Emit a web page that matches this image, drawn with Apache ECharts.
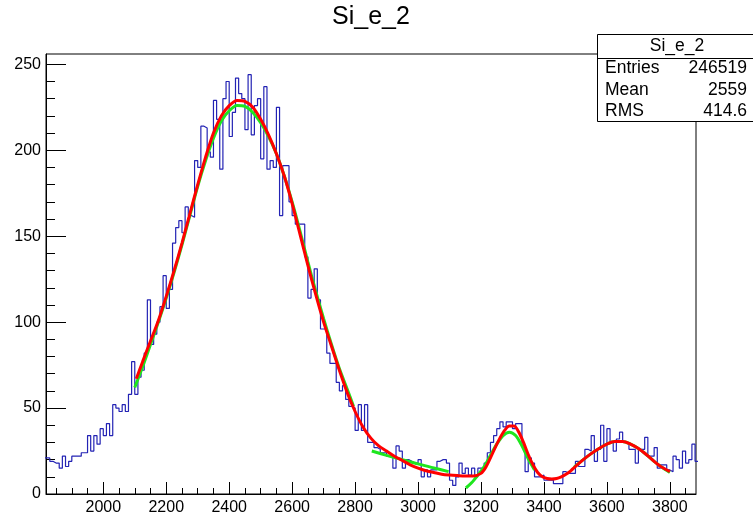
<!DOCTYPE html>
<html><head><meta charset="utf-8">
<script src="https://cdn.jsdelivr.net/npm/echarts@6/dist/echarts.min.js"></script>
<style>html,body{margin:0;padding:0;background:#fff}#c{width:753px;height:519px}</style>
</head><body><div id="c"></div>
<script>
// ---- data ----
const binStart = 1810;
const binWidth = 10;
const counts = [
  21, 21, 19, 18, 18, 15, 22, 16, 19, 22,   // 1810-1900
  22, 22, 24, 24, 34, 25, 34, 29, 38, 34,   // 1910-2000
  41, 34, 52, 50, 48, 52, 48, 58, 77, 58,   // 2010-2100
  68, 72, 82, 113, 87, 93, 100, 109, 127, 108, // 2110-2200
  119, 146, 155, 159, 152, 167, 162, 161, 194, 190, // 2210-2300
  214, 213, 199, 196, 229, 218, 189, 230, 240, 208, // 2310-2400
  222, 242, 233, 230, 212, 244, 209, 226, 230, 195, // 2410-2500
  237, 189, 194, 190, 225, 162, 191, 191, 170, 162, // 2510-2600
  157, 157, 157, 138, 114, 119, 131, 113, 96, 96,   // 2610-2700
  82, 76, 76, 65, 60, 63, 55, 51, 50, 37,   // 2710-2800
  52, 37, 52, 30, 30, 27, 26, 24, 24, 22,   // 2810-2900
  22, 15, 28, 25, 15, 20, 19, 18, 18, 20,   // 2910-3000
  10, 14, 10, 14, 14, 19, 20, 20, 18, 8,    // 3010-3100
  5, 10, 18, 12, 15, 11, 15, 10, 15, 15,    // 3110-3200
  18, 24, 30, 34, 38, 42, 39, 42, 42, 38,   // 3210-3300
  41, 41, 28, 13, 21, 18, 10, 10, 11, 8,    // 3310-3400
  8, 8, 6, 6, 6, 13, 12, 12, 12, 19,        // 3410-3500
  16, 16, 26, 25, 34, 19, 26, 40, 19, 38,   // 3510-3600
  30, 25, 32, 36, 30, 29, 26, 26, 18, 26,   // 3610-3700
  26, 33, 22, 22, 27, 15, 17, 17, 14, 13,   // 3710-3800
  22, 20, 15, 25, 18, 20, 29, 19            // 3810-3880
];

// total fit (red)
const redX = [2105, 2125, 2150, 2175, 2200, 2225, 2250, 2275, 2300, 2325, 2350, 2375, 2400, 2425, 2450, 2475, 2500, 2525, 2550, 2575, 2600, 2625, 2650, 2675, 2700, 2725, 2750, 2775, 2800, 2825, 2850, 2875, 2900, 2925, 2950, 2975, 3000, 3025, 3050, 3075, 3100, 3125, 3150, 3175, 3200, 3215, 3230, 3245, 3260, 3275, 3290, 3305, 3320, 3335, 3350, 3365, 3380, 3395, 3410, 3425, 3440, 3455, 3470, 3485, 3500, 3525, 3550, 3575, 3600, 3625, 3650, 3675, 3700, 3725, 3750, 3775, 3800];
const redY = [67, 77, 89, 101, 115, 130, 146, 163, 180, 196, 210, 220, 226, 229, 228.5, 225, 218, 209, 198, 185, 169, 151, 133, 116, 100, 86, 72, 59, 48, 39, 32.5, 28, 25, 22, 19.5, 17, 15, 13.5, 12.5, 11.5, 11, 10.7, 10.5, 10.5, 12, 15.5, 21, 27, 32.5, 37, 39.5, 39.5, 36, 30, 23, 17, 12.5, 10, 9, 8.7, 9, 10, 11.5, 13.5, 16, 20, 23.5, 26.5, 29, 30.5, 30.5, 29, 26.5, 23, 19, 15.5, 13];
// component fits (green)
const g1X = [2100, 2125, 2150, 2175, 2200, 2225, 2250, 2275, 2300, 2325, 2350, 2375, 2400, 2425, 2450, 2475, 2500, 2525, 2550, 2575, 2600, 2625, 2650, 2675, 2700, 2725, 2750, 2775, 2795];
const g1Y = [62, 74, 87, 100, 114, 129, 145, 162, 179, 194, 207, 217, 223, 226, 225.5, 222, 216, 208, 198, 185, 170, 153, 135, 118, 102, 87, 73, 61, 51];
const g2X = [2853, 2900, 2950, 3000, 3050, 3097];
const g2Y = [25, 22.5, 20, 17.5, 15.2, 13];
const g3X = [3152, 3170, 3190, 3210, 3230, 3250, 3270, 3290, 3310, 3330, 3350, 3370];
const g3Y = [3.5, 6.5, 11, 16, 22.5, 29, 34, 36, 34, 28, 20.5, 14];
const g4X = [3495, 3525, 3550, 3575, 3600, 3625, 3650, 3675, 3700, 3725, 3750, 3775, 3800];
const g4Y = [15.5, 20, 23.5, 26.5, 29, 30.5, 30.5, 29, 26.5, 23, 19, 15.5, 12.5];

// axis ticks / labels
const xMajorTicks = [2000, 2200, 2400, 2600, 2800, 3000, 3200, 3400, 3600, 3800];
const xMinorTicks = [1850, 1900, 1950, 2000, 2050, 2100, 2150, 2200, 2250, 2300, 2350, 2400, 2450, 2500, 2550, 2600, 2650, 2700, 2750, 2800, 2850, 2900, 2950, 3000, 3050, 3100, 3150, 3200, 3250, 3300, 3350, 3400, 3450, 3500, 3550, 3600, 3650, 3700, 3750, 3800, 3850];
const yMajorTicks = [0, 50, 100, 150, 200, 250];
const yMinorTicks = [10, 20, 30, 40, 60, 70, 80, 90, 110, 120, 130, 140, 160, 170, 180, 190, 210, 220, 230, 240];

const titleText = 'Si_e_2';
const statsRows = [['Entries', '246519'], ['Mean', '2559'], ['RMS', '414.6']];

// ---- chart ----
const FONT = '"Liberation Sans", Arial, Helvetica, sans-serif';
const xMin = 1818, xMax = 3883, yMin = 0, yMax = 256;
const G = {left: 46, right: 57, top: 54, bottom: 25};

const histData = counts.map((v, i) => [binStart + i * binWidth, v]);
histData.push([binStart + counts.length * binWidth, counts[counts.length - 1]]);
const zip = (xs, ys) => xs.map((x, i) => [x, ys[i]]);
const plain = v => String(v);

function axisCommon(min, max) {
  return {type: 'value', min: min, max: max, splitLine: {show: false}};
}

const chart = echarts.init(document.getElementById('c'), null, {renderer: 'canvas'});
const curve = (data, color, z) => ({
  type: 'line', data: data, smooth: 0.3, showSymbol: false, symbol: 'none',
  lineStyle: {color: color, width: 3}, z: z, silent: true, clip: true
});

chart.setOption({
  animation: false,
  backgroundColor: '#ffffff',
  grid: [
    Object.assign({show: true, borderColor: '#000', borderWidth: 1, backgroundColor: 'transparent'}, G),
    Object.assign({show: false}, G)
  ],
  xAxis: [
    Object.assign(axisCommon(xMin, xMax), {
      gridIndex: 0, position: 'bottom',
      axisLine: {show: true, onZero: false, lineStyle: {color: '#000', width: 1}},
      axisTick: {show: true, inside: true, length: 12, customValues: xMajorTicks, lineStyle: {color: '#000', width: 1}},
      axisLabel: {show: true, customValues: xMajorTicks, formatter: plain, color: '#000', fontSize: 16, fontFamily: FONT, margin: 6}
    }),
    Object.assign(axisCommon(xMin, xMax), {
      gridIndex: 1, position: 'bottom',
      axisLine: {show: false, onZero: false},
      axisTick: {show: true, inside: true, length: 6, customValues: xMinorTicks, lineStyle: {color: '#000', width: 1}},
      axisLabel: {show: false}
    })
  ],
  yAxis: [
    Object.assign(axisCommon(yMin, yMax), {
      gridIndex: 0, position: 'left',
      axisLine: {show: true, onZero: false, lineStyle: {color: '#000', width: 1}},
      axisTick: {show: true, inside: true, length: 20, customValues: yMajorTicks, lineStyle: {color: '#000', width: 1}},
      axisLabel: {show: true, customValues: yMajorTicks, formatter: plain, color: '#000', fontSize: 16, fontFamily: FONT, margin: 5}
    }),
    Object.assign(axisCommon(yMin, yMax), {
      gridIndex: 1, position: 'left',
      axisLine: {show: false, onZero: false},
      axisTick: {show: true, inside: true, length: 9, customValues: yMinorTicks, lineStyle: {color: '#000', width: 1}},
      axisLabel: {show: false}
    })
  ],
  series: [
    {
      type: 'line', name: 'hist', data: histData, step: 'end', showSymbol: false, symbol: 'none',
      lineStyle: {color: '#2323b4', width: 1.2}, z: 2, silent: true, clip: true,
      xAxisIndex: 0, yAxisIndex: 0
    },
    curve(zip(g1X, g1Y), '#1ee61e', 3),
    curve(zip(g2X, g2Y), '#1ee61e', 3),
    curve(zip(g3X, g3Y), '#1ee61e', 3),
    curve(zip(g4X, g4Y), '#1ee61e', 3),
    curve(zip(redX, redY), '#ff0000', 4)
  ],
  graphic: [
    {type: 'text', z: 100, silent: true,
     style: {text: titleText, x: 371, y: 17, align: 'center', verticalAlign: 'middle', font: '25px ' + FONT, fill: '#000'}},
    {type: 'rect', z: 100, silent: true,
     shape: {x: 597.5, y: 34.5, width: 160, height: 87},
     style: {fill: '#fff', stroke: '#000', lineWidth: 1}},
    {type: 'line', z: 101, silent: true,
     shape: {x1: 597.5, y1: 58.5, x2: 753, y2: 58.5},
     style: {stroke: '#000', lineWidth: 1}},
    {type: 'text', z: 102, silent: true,
     style: {text: titleText, x: 677, y: 46.5, align: 'center', verticalAlign: 'middle', font: '17.5px ' + FONT, fill: '#000'}}
  ].concat(statsRows.flatMap((r, i) => [
    {type: 'text', z: 102, silent: true,
     style: {text: r[0], x: 605, y: 68.5 + i * 21.5, align: 'left', verticalAlign: 'middle', font: '17.5px ' + FONT, fill: '#000'}},
    {type: 'text', z: 102, silent: true,
     style: {text: r[1], x: 747, y: 68.5 + i * 21.5, align: 'right', verticalAlign: 'middle', font: '17.5px ' + FONT, fill: '#000'}}
  ]))
});
</script></body></html>
